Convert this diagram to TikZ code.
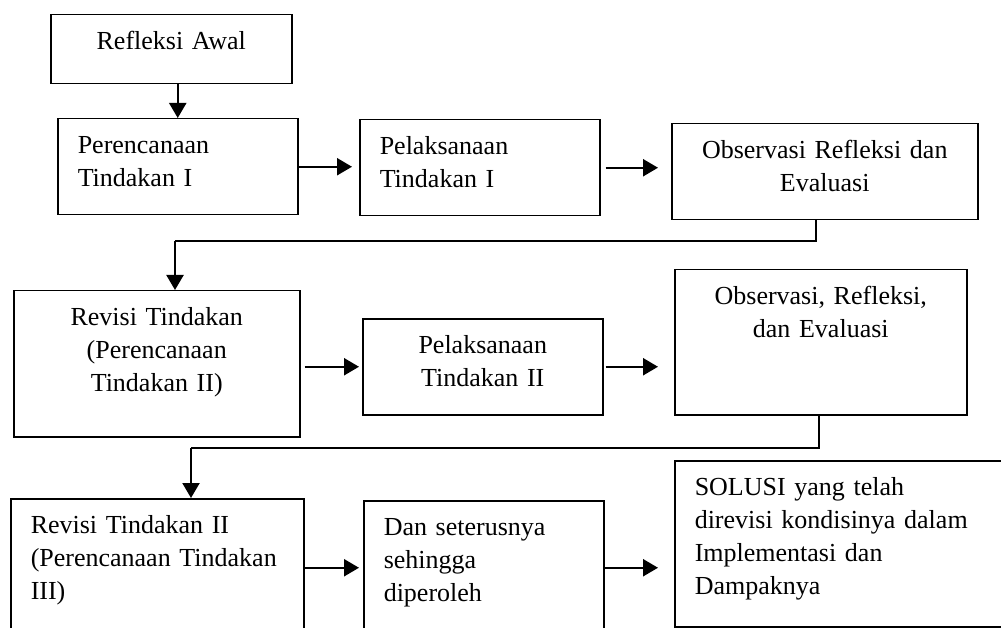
\documentclass[tikz,border=0pt]{standalone}
\usepackage{fontspec}
\setmainfont{Liberation Serif}
\usetikzlibrary{positioning, arrows.meta}

\begin{document}
\begin{tikzpicture}[x=1pt, y=-1pt,
    >={Triangle[length=15pt, width=17pt]}, % Arrow tip style
    box/.style={draw, line width=1.5pt, anchor=north west, inner xsep=20pt, inner ysep=0pt,
                text height=34.5pt, font=\fontsize{26}{33}\selectfont},
    flow/.style={->, line width=2.2pt}]
    \useasboundingbox (0,0) rectangle (1001,628);
    \clip (0,0) rectangle (1001,628);

    % First cycle
    \node[box, align=center, text width=201pt, text depth=34.5pt] (refl) at (50,14) {Refleksi Awal};
    \node[box, align=left, text width=200pt, text depth=61.5pt] (ren1) at (57,118) {Perencanaan\\Tindakan I};
    \node[box, align=left, text width=200pt, text depth=61.5pt] (pel1) at (359,119) {Pelaksanaan\\Tindakan I};
    \node[box, align=center, text width=266pt, text depth=61.5pt] (obs1) at (671,123) {Observasi Refleksi dan\\Evaluasi};

    % Second cycle
    \node[box, align=center, text width=246pt, text depth=111.5pt] (rev1) at (13,290) {Revisi Tindakan\\(Perencanaan\\Tindakan II)};
    \node[box, align=center, text width=200pt, text depth=61.5pt] (pel2) at (362,318) {Pelaksanaan\\Tindakan II};
    \node[box, align=center, text width=252pt, text depth=110.5pt] (obs2) at (674,269) {Observasi, Refleksi,\\dan Evaluasi};

    % Third cycle
    \node[box, align=left, text width=253pt, text depth=103.5pt] (rev2) at (10,498) {Revisi Tindakan II\\(Perencanaan Tindakan\\III)};
    \node[box, align=left, text width=200pt, text depth=99.5pt] (lanj) at (363,500) {Dan seterusnya\\sehingga\\diperoleh};
    \node[box, align=left, text width=320pt, text depth=131.5pt] (solusi) at (674,460) {SOLUSI yang telah\\direvisi kondisinya dalam\\Implementasi dan\\Dampaknya};

    % Turning points of the connectors between cycles
    \coordinate (turn1) at (175,241);
    \coordinate (turn2) at (191,448);

    % Connectors
    \draw[flow] (refl.south -| ren1.north) -- (ren1.north);
    \draw[flow, shorten >=7pt] (ren1.east) -- (ren1.east -| pel1.west);
    \draw[flow, shorten <=5pt, shorten >=13pt] (pel1.east) -- (pel1.east -| obs1.west);
    \draw[line width=1.5pt] ([xshift=-9pt]obs1.south) |- (turn1);
    \draw[flow] (turn1) -- (turn1 |- rev1.north);

    \draw[flow, shorten <=4pt, shorten >=3pt] (rev1.east |- pel2.west) -- (pel2.west);
    \draw[flow, shorten <=2pt, shorten >=16pt] (pel2.east) -- (pel2.east -| obs2.west);
    \draw[line width=1.5pt] ([xshift=-2pt]obs2.south) |- (turn2);
    \draw[flow] (turn2) -- (turn2 |- rev2.north);

    \draw[flow, shorten >=4pt] (rev2.east) -- (rev2.east -| lanj.west);
    \draw[flow, shorten >=16pt] (lanj.east) -- (lanj.east -| solusi.west);
\end{tikzpicture}
\end{document}
